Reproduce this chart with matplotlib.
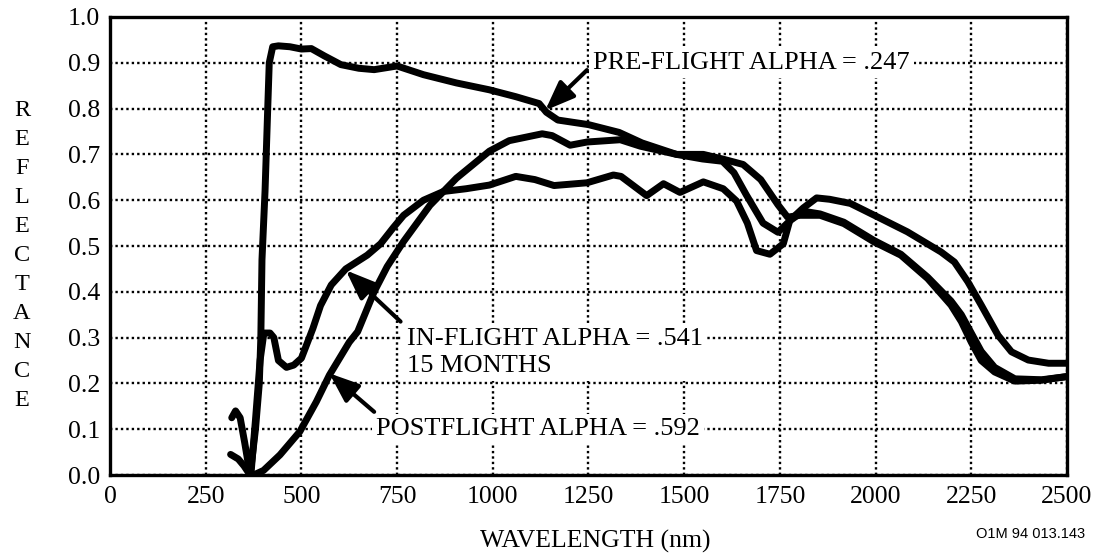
"""Reflectance spectra: pre-flight, in-flight (15 months) and postflight."""

import matplotlib
matplotlib.use("Agg")
import matplotlib.pyplot as plt

SERIF = "Liberation Serif"

# pre-flight sample (alpha = .247)
pre_wl = [315, 335, 350, 366, 380, 390, 394, 397, 405, 412, 416, 425, 440,
          470, 500, 526, 560, 603, 650, 690, 750, 819, 905, 991, 1060, 1121,
          1140, 1170, 1250, 1330, 1390, 1480, 1550, 1600, 1654, 1700, 1745,
          1770, 1803, 1855, 1917, 1996, 2066, 2136, 2197, 2224, 2250, 2276,
          2311, 2364, 2434, 2500]
pre_refl = [0.045, 0.035, 0.02, 0.0, 0.10, 0.20, 0.30, 0.47, 0.62, 0.80, 0.90,
            0.935, 0.937, 0.935, 0.93, 0.931, 0.915, 0.896, 0.888, 0.885,
            0.893, 0.874, 0.856, 0.841, 0.826, 0.811, 0.792, 0.775, 0.765,
            0.748, 0.725, 0.700, 0.700, 0.690, 0.678, 0.645, 0.590, 0.563,
            0.567, 0.567, 0.549, 0.509, 0.480, 0.429, 0.371, 0.335, 0.290,
            0.250, 0.225, 0.205, 0.207, 0.215]

# in-flight sample, 15 months (alpha = .541)
in_wl = [318, 328, 340, 352, 362, 368, 380, 392, 402, 418, 428, 440, 461,
         480, 500, 530, 550, 578, 616, 672, 707, 740, 767, 819, 871, 930,
         991, 1060, 1110, 1160, 1246, 1315, 1335, 1402, 1446, 1489, 1550,
         1602, 1637, 1665, 1689, 1724, 1759, 1776, 1811, 1846, 1880, 1934,
         2004, 2083, 2171, 2206, 2241, 2276, 2320, 2355, 2399, 2452, 2500]
in_refl = [0.125, 0.14, 0.125, 0.07, 0.02, 0.0, 0.12, 0.25, 0.31, 0.31, 0.30,
           0.25, 0.235, 0.24, 0.255, 0.32, 0.37, 0.415, 0.45, 0.48, 0.505,
           0.54, 0.567, 0.60, 0.619, 0.625, 0.633, 0.652, 0.645, 0.632, 0.638,
           0.655, 0.652, 0.61, 0.636, 0.617, 0.640, 0.625, 0.598, 0.55, 0.49,
           0.482, 0.505, 0.556, 0.583, 0.605, 0.602, 0.593, 0.564, 0.531,
           0.487, 0.465, 0.422, 0.371, 0.305, 0.269, 0.251, 0.244, 0.244]

# postflight sample (alpha = .592)
post_wl = [375, 401, 444, 496, 539, 573, 625, 647, 690, 724, 767, 836, 905,
           991, 1043, 1129, 1155, 1202, 1246, 1333, 1385, 1480, 1548, 1600,
           1630, 1662, 1706, 1745, 1776, 1811, 1855, 1917, 1996, 2066, 2136,
           2197, 2224, 2250, 2276, 2311, 2364, 2434, 2500]
post_refl = [0.0, 0.01, 0.044, 0.095, 0.16, 0.218, 0.29, 0.313, 0.40, 0.455,
             0.51, 0.589, 0.648, 0.707, 0.73, 0.745, 0.741, 0.72, 0.727, 0.732,
             0.718, 0.700, 0.690, 0.685, 0.66, 0.612, 0.55, 0.53, 0.555, 0.576,
             0.570, 0.552, 0.512, 0.482, 0.432, 0.38, 0.35, 0.31, 0.27, 0.235,
             0.21, 0.208, 0.215]

x_ticks = [0, 250, 500, 750, 1000, 1250, 1500, 1750, 2000, 2250, 2500]
y_ticks = [0.0, 0.1, 0.2, 0.3, 0.4, 0.5, 0.6, 0.7, 0.8, 0.9, 1.0]

# (text, anchor x, anchor y, arrow tail, arrow tip)
notes = [
    ("PRE-FLIGHT ALPHA = .247", 1263, 0.90, (1246, 0.884), (1137, 0.796)),
    ("IN-FLIGHT ALPHA = .541\n15 MONTHS", 776, 0.268, (759, 0.335), (616, 0.447)),
    ("POSTFLIGHT ALPHA = .592", 695, 0.10, (690, 0.138), (573, 0.222)),
]

fig = plt.figure(figsize=(11.09, 5.53), dpi=100)
ax = fig.add_axes([0.0992, 0.141, 0.8629, 0.8283])

for wl, refl in [(pre_wl, pre_refl), (in_wl, in_refl), (post_wl, post_refl)]:
    ax.plot(wl, refl, color="black", lw=5, solid_joinstyle="round",
            solid_capstyle="round", zorder=4)

ax.set_xlim(0, 2500)
ax.set_ylim(0, 1.0)
ax.set_xticks(x_ticks)
ax.set_xticklabels([str(t) for t in x_ticks])
ax.set_yticks(y_ticks)
ax.set_yticklabels([f"{t:.1f}" for t in y_ticks])
ax.tick_params(length=0, labelsize=18.5)
ax.tick_params(axis="x", pad=8)
ax.tick_params(axis="y", pad=7)
for lab in ax.get_xticklabels() + ax.get_yticklabels():
    lab.set_fontfamily(SERIF)

ax.grid(True, color="black", linestyle=(0, (1, 1.3)), lw=1.7)
ax.set_axisbelow(True)
for sp in ax.spines.values():
    sp.set_linewidth(2.4)

for label, tx, ty, tail, tip in notes:
    ax.text(tx, ty, label, family=SERIF, fontsize=19, ha="left", va="center",
            linespacing=1.3, zorder=3,
            bbox=dict(facecolor="white", edgecolor="none", pad=3))
    ax.annotate("", xy=tip, xytext=tail, zorder=5,
                arrowprops=dict(arrowstyle="-|>,head_length=0.9,head_width=0.35",
                                color="black", lw=3, shrinkA=0, shrinkB=0,
                                mutation_scale=20))

fig.text(595 / 1109, 1 - 541 / 553, "WAVELENGTH (nm)", family=SERIF,
         fontsize=18.5, ha="center", va="center")

for i, ch in enumerate("REFLECTANCE"):
    fig.text(22 / 1109, 1 - (111 + i * 28.9) / 553, ch, family=SERIF,
             fontsize=17.5, ha="center", va="center")

fig.text(1031 / 1109, 1 - 534 / 553, "O1M 94 013.143",
         family="Liberation Sans", fontsize=10.5, ha="center", va="center")

fig.savefig("out.png", dpi=100)
